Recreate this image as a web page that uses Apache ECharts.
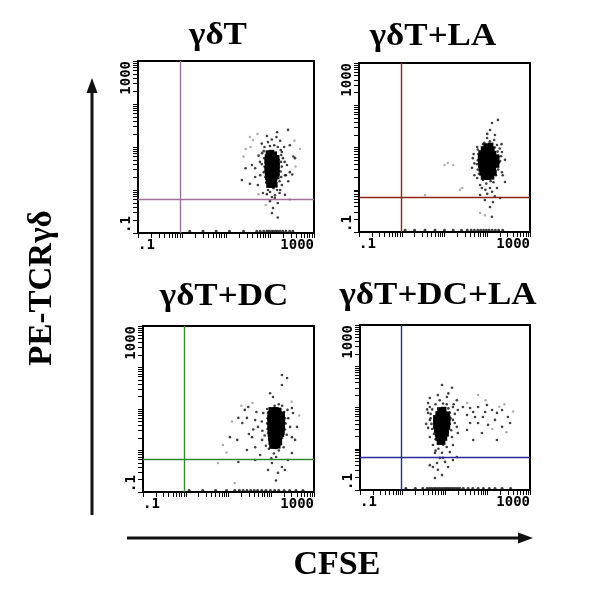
<!DOCTYPE html>
<html><head><meta charset="utf-8">
<script src="https://cdn.jsdelivr.net/npm/echarts@6/dist/echarts.min.js"></script>
<style>html,body{margin:0;padding:0;background:#fff}#c{width:600px;height:610px}</style>
</head><body><div id="c"></div>
<script>
// ---------- data ----------
const panelTitles = ['γδT', 'γδT+LA', 'γδT+DC', 'γδT+DC+LA'];
const xAxisTitle = 'CFSE';
const yAxisTitle = 'PE-TCRγδ';
const axisMin = 0.1, axisMax = 1000;
const tickLabelValues = [0.1, 1000];
const quadX = [0.9, 0.96, 0.91, 0.92];
const quadY = [0.62, 0.68, 0.62, 0.63];

// panel 1: γδT
const core1 = [[92,7.2],[108,7.4],[125,6.8],[88,5.8],[104,6],[122,5.8],[142,5.6],[86,4.7],[103,4.8],[122,4.7],[144,4.6],
[88,3.8],[105,3.8],[124,3.8],[145,3.7],[86,3.1],[103,3.0],[122,3.1],[144,3.0],[88,2.5],[105,2.5],[124,2.45],[144,2.5],
[90,2.0],[107,2.0],[126,1.95],[142,2.05],[92,1.62],[109,1.65],[126,1.6],[95,1.3],[112,1.3],[128,1.32]];
const halo1 = [[257,25],[145,22],[282,11],[90,13],[370,5.5],[39,3.8],[23,1.7],[46,2.0],[69,0.85],[117,0.38],[129,0.65],[219,0.77],
[186,1.3],[219,2.2],[282,2.6],[243,3.8],[197,5.5],[186,7.7],[66,7.2],[59,4.5],[46,3.2],[53,1.3],[90,1.0],[145,1.0],[111,0.69],
[150,0.5],[111,0.29],[150,0.23],[75,10],[100,10.5],[125,11],[150,10],[175,8.5],[72,8],[180,6.5],[74,5.5],[178,4.5],[185,3.5],
[75,3.5],[72,2.6],[175,2.7],[78,2.0],[180,2.0],[82,1.5],[165,1.6],[100,1.35],[120,1.1],[140,1.25],[100,0.9],[85,0.8],[165,0.85],
[65,4],[215,4.5],[60,2.2],[230,2.2],[110,15],[140,17],[170,14],[65,12],[85,18],[210,10],[55,6.3],[100,0.55],[130,0.75],[170,1.0],
[260,1.6],[340,6],[320,2.3],[35,1.4],[28,3.2]];
const faint1 = [[35,17],[41,14.6],[52,20],[28,9],[36,10],[360,14],[380,3.5],[280,0.6],[80,0.45],[55,0.8],[480,9],[25,6]];
const floor1 = [[50,0.11],[60,0.11],[72,0.11],[85,0.11],[95,0.11],[108,0.11],[120,0.11],[135,0.11],[150,0.11],[170,0.11],[195,0.11],
[230,0.11],[280,0.11],[330,0.11],[1.5,0.11],[3,0.11],[6,0.11],[12,0.11],[25,0.11]];

// panel 2: γδT+LA
const core2 = [[95,10.8],[120,11.2],[82,9.2],[105,9.3],[128,9.1],[72,7.4],[92,7.4],[113,7.4],[140,7.2],[70,6.0],[88,6.1],[110,6.0],
[136,5.9],[165,5.9],[70,4.8],[88,4.8],[110,4.8],[136,4.8],[165,4.75],[71,3.85],[89,3.85],[111,3.85],[137,3.8],[165,3.85],
[73,3.1],[91,3.1],[113,3.1],[139,3.05],[76,2.5],[96,2.48],[118,2.5],[143,2.5],[82,2.0],[104,1.98],[126,2.02]];
const halo2 = [[178,45],[129,38],[116,26],[151,19.8],[99,16.8],[169,11.5],[58,10.3],[221,7.8],[260,5.1],[46,5.6],[44,3.3],[58,1.9],
[221,2.6],[260,1.52],[68,1.3],[116,1.1],[169,1.1],[68,0.75],[88,0.57],[136,0.51],[200,0.64],[116,0.39],[129,0.23],
[60,9],[150,10],[62,7],[175,8],[60,5],[185,6],[58,4],[190,4.5],[60,3],[180,3],[64,2.4],[160,2.2],[80,1.7],[120,1.6],[95,1.4],
[140,1.5],[75,1.1],[130,0.9],[100,0.8],[50,4.2],[200,4.8],[210,6.2],[48,7],[195,9.5],[85,13],[115,14],[145,15],[80,12],[100,21],
[215,12],[50,2.2],[230,2.2],[150,0.7],[90,1.0]];
const faint2 = [[10,3.85],[16,3.85],[12,4.3],[23,1.0],[26,1.1],[68,0.28],[88,0.25],[3.5,0.75]];
const floor2 = [[1.2,0.11],[2,0.11],[3.5,0.11],[6,0.11],[10,0.11],[16,0.11],[25,0.11],[34,0.11],[42,0.11],[50,0.11],[60,0.11],[70,0.11],
[82,0.11],[95,0.11],[110,0.11],[130,0.11],[155,0.11],[185,0.11],[230,0.11]];

// panel 3: γδT+DC
const core3 = [[100,9.5],[128,9.6],[150,9.2],[95,7.6],[112,7.7],[132,7.6],[155,7.5],[180,7.4],[94,6.1],[110,6.1],[129,6.1],
[152,6.1],[180,6.0],[94,4.9],[110,4.9],[129,4.9],[152,4.9],[182,4.85],[94,3.9],[110,3.9],[129,3.9],[152,3.9],[180,3.85],
[95,3.1],[111,3.1],[130,3.1],[153,3.1],[178,3.05],[96,2.5],[112,2.5],[131,2.5],[152,2.5],[172,2.48],[98,2.0],[114,2.0],
[133,2.0],[152,2.0],[100,1.6],[118,1.6],[136,1.6],[155,1.6],[104,1.28],[124,1.28],[142,1.3]];
const halo3 = [[178,66],[234,56],[178,38],[94,24],[110,19.5],[305,10.6],[323,8.0],[29,11.2],[24,9.5],[17,6.1],[27,6.1],[42,5.4],
[21,4.6],[49,3.7],[10.8,2.1],[16,1.8],[35.5,2.1],[61,1.8],[27,1.03],[42,1.2],[55,0.78],[17,0.53],[42,0.59],[104,0.5],[178,0.4],
[245,0.59],[305,0.87],[360,1.8],[400,3.7],[276,3.7],[305,2.1],[144,0.29],[129,0.19],[84,0.34],[209,0.34],
[80,10],[84,8],[200,8.5],[210,6],[82,6],[80,4.5],[215,4.5],[82,3.3],[210,3.2],[85,2.6],[195,2.5],[90,1.9],[180,2],[105,1.4],
[165,1.4],[130,1.15],[88,1.1],[150,1.0],[115,0.85],[65,8],[60,5],[62,3],[250,6],[240,9.5],[150,13],[120,12],[180,12],[70,2.3],
[230,2.4],[75,1.3],[195,1.2],[45,8.5],[38,3.2],[30,2.5],[130,0.7],[100,0.65]];
const faint3 = [[7.4,1.36],[5.7,0.5],[14,0.165],[20,12],[12,5],[36,14],[450,7],[300,15],[9,0.9]];
const floor3 = [[1.2,0.11],[2.5,0.11],[5,0.11],[9,0.11],[14,0.11],[18,0.11],[22,0.11],[27,0.11],[33,0.11],[40,0.11],[48,0.11],[60,0.11],
[75,0.11],[95,0.11],[120,0.11],[150,0.11],[200,0.11],[270,0.11],[380,0.11],[550,0.11]];

// panel 4: γδT+DC+LA
const core4 = [[7.6,8.7],[9.3,8.9],[6.9,6.95],[8.2,7.0],[9.7,6.9],[11.2,6.8],[6.1,5.6],[7.2,5.6],[8.5,5.6],[10,5.6],[11.6,5.5],
[6.1,4.45],[7.2,4.45],[8.5,4.45],[10,4.45],[11.6,4.4],[6.1,3.56],[7.2,3.6],[8.5,3.56],[10,3.5],[11.4,3.56],[6.4,2.85],[7.6,2.85],
[9.0,2.85],[10.6,2.8],[6.7,2.28],[7.9,2.28],[9.3,2.28],[10.6,2.3],[6.9,1.82],[8.2,1.82],[9.7,1.82],[7.4,1.46],[8.8,1.46]];
const halo4 = [[8.5,35],[14.6,30],[6.8,20],[4.4,17],[11.1,18],[19,15],[4.0,12.8],[4.4,10.3],[15.4,10.3],[20,8.7],[4.0,7.4],[4.4,5.0],
[15.4,5.0],[19,3.4],[4.0,3.2],[4.4,1.93],[14.6,1.93],[20,2.4],[5.2,1.23],[15.4,1.23],[5.8,0.79],[13,0.83],[19,0.63],[7.6,0.6],
[10,0.48],[5.2,0.36],[6.8,0.31],[8.5,0.23],[5.8,0.195],[4.4,0.4],[11.8,0.36],[15.4,0.53],
[26.5,10.3],[39,9.7],[60,10.3],[97,11.5],[128,8.7],[220,8.7],[302,5.9],[33,6.6],[51,5.9],[78,5.9],[150,5.0],[39,4.2],[60,4.2],
[103,3.8],[220,3.4],[33,2.85],[74,2.4],[46,1.63],[167,1.63],[340,4.2],[46,7.8],[88,7.8],[167,7.4],
[5,9],[12,9.5],[4.6,7],[13,7.5],[4.6,5.5],[13.5,5.5],[4.8,4],[13,4],[5,3],[12.5,3],[5.5,2.3],[11.5,2.4],[6,1.7],[10,1.8],[7,1.3],
[9,1.25],[11,1.1],[7,1.0],[8.5,0.8],[6,0.9],[6,12],[9,12.5],[11,12],[7.5,15],[3.8,9],[3.6,4],[17,7],[17,4.2],[14,2.8],[9,0.6],
[6.5,0.45],[16,12],[12,22]];
const faint4 = [[60,20],[33,12.8],[250,12],[400,8],[130,3],[280,2.5],[90,15],[190,10.5]];
const floor4 = [[3.8,0.11],[4.3,0.11],[4.8,0.11],[5.4,0.11],[6,0.11],[6.7,0.11],[7.5,0.11],[8.4,0.11],[9.4,0.11],[10.5,0.11],[11.7,0.11],
[13,0.11],[14.5,0.11],[16,0.11],[18,0.11],[20,0.11],[22.5,0.11],[27,0.11],[35,0.11],[45,0.11],[60,0.11],[80,0.11],[110,0.11],[150,0.11],
[220,0.11],[350,0.11],[1.2,0.11],[2,0.11],[3,0.11]];

const cores = [core1, core2, core3, core4];
const halos = [halo1, halo2, halo3, halo4];
const faints = [faint1, faint2, faint3, faint4];
const floors = [floor1, floor2, floor3, floor4];

// ---------- layout / style ----------
const grids = [
  {left:138, top:61, width:176, height:172},
  {left:359, top:63, width:171, height:169},
  {left:143, top:326, width:171, height:166},
  {left:360, top:325, width:170, height:165}
];
const quadColors = ['#a0709c', '#8e2418', '#2f8a30', '#2a2a9c'];
const titlePos = [[218,36],[433,37],[224,297],[438,296]];

// log-decade minor tick positions (axis decoration)
const tickPositions = [];
for (let e = -1; e < 3; e++) for (let m = 1; m <= 9; m++) tickPositions.push(+(m * Math.pow(10, e)).toPrecision(3));
tickPositions.push(1000);

const labelFont = {fontFamily:'DejaVu Sans Mono', fontWeight:'bold', fontSize:14, color:'#000'};
const fmt = v => (Math.abs(v - 0.1) < 1e-9 ? '.1' : (Math.abs(v - 1000) < 1e-6 ? '1000' : ''));

const option = {
  animation: false,
  backgroundColor: '#fff',
  grid: grids.map(g => Object.assign({show:true, borderColor:'#000', borderWidth:2, backgroundColor:'#fff'}, g)),
  xAxis: grids.map((g, i) => ({
    type:'log', logBase:10, gridIndex:i, min:axisMin, max:axisMax,
    axisLine:{show:true, onZero:false, lineStyle:{color:'#000', width:2}},
    axisTick:{show:true, inside:false, length:5, customValues:tickPositions, lineStyle:{color:'#000', width:1}},
    minorTick:{show:false},
    splitLine:{show:false},
    axisLabel:Object.assign({show:true, customValues:tickLabelValues, formatter:fmt, margin:5,
      alignMinLabel:'left', alignMaxLabel:'right', showMinLabel:true, showMaxLabel:true}, labelFont)
  })),
  yAxis: grids.map((g, i) => ({
    type:'log', logBase:10, gridIndex:i, min:axisMin, max:axisMax,
    axisLine:{show:true, onZero:false, lineStyle:{color:'#000', width:2}},
    axisTick:{show:true, inside:false, length:5, customValues:tickPositions, lineStyle:{color:'#000', width:1}},
    minorTick:{show:false},
    splitLine:{show:false},
    axisLabel:Object.assign({show:true, customValues:tickLabelValues, formatter:fmt, rotate:90, margin:5,
      alignMinLabel:'left', alignMaxLabel:'right', showMinLabel:true, showMaxLabel:true}, labelFont)
  })),
  series: [],
  graphic: []
};

for (let i = 0; i < 4; i++) {
  option.series.push({
    type:'scatter', xAxisIndex:i, yAxisIndex:i, data:floors[i], symbolSize:2.8,
    itemStyle:{color:'#111'}, silent:true, clip:false
  });
  option.series.push({
    type:'scatter', xAxisIndex:i, yAxisIndex:i, data:faints[i], symbolSize:2.5,
    itemStyle:{color:'#9a9a9a'}, silent:true
  });
  option.series.push({
    type:'scatter', xAxisIndex:i, yAxisIndex:i, data:halos[i], symbolSize:2.6,
    itemStyle:{color:'#111'}, silent:true
  });
  option.series.push({
    type:'scatter', xAxisIndex:i, yAxisIndex:i, data:cores[i], symbol:'rect', symbolSize:5.6,
    itemStyle:{color:'#000', opacity:1}, silent:true, large:false,
    markLine:{silent:true, symbol:'none', label:{show:false}, animation:false,
      lineStyle:{color:quadColors[i], width:1.4, type:'solid'},
      data:[{xAxis:quadX[i]}, {yAxis:quadY[i]}]}
  });
  option.graphic.push({type:'text', x:titlePos[i][0], y:titlePos[i][1], scaleX:1.13,
    style:{text:panelTitles[i], fontFamily:'Liberation Serif', fontWeight:'bold', fontSize:31, fill:'#000',
      align:'center', verticalAlign:'middle'}});
}

// shared axis titles and arrows
option.graphic.push(
  {type:'text', x:42, y:288, rotation:Math.PI/2,
    style:{text:yAxisTitle, fontFamily:'Liberation Serif', fontWeight:'bold', fontSize:33, fill:'#000', align:'center', verticalAlign:'middle'}},
  {type:'text', x:337, y:565,
    style:{text:xAxisTitle, fontFamily:'Liberation Serif', fontWeight:'bold', fontSize:34, fill:'#000', align:'center', verticalAlign:'middle'}},
  {type:'line', shape:{x1:92, y1:515, x2:92, y2:90}, style:{stroke:'#111', lineWidth:3}},
  {type:'polygon', shape:{points:[[92,78],[86.5,93],[97.5,93]]}, style:{fill:'#111'}},
  {type:'line', shape:{x1:127, y1:538, x2:520, y2:538}, style:{stroke:'#111', lineWidth:3}},
  {type:'polygon', shape:{points:[[533,538],[518,532.5],[518,543.5]]}, style:{fill:'#111'}}
);

const chart = echarts.init(document.getElementById('c'), null, {renderer:'canvas'});
chart.setOption(option);
</script>
</body></html>
